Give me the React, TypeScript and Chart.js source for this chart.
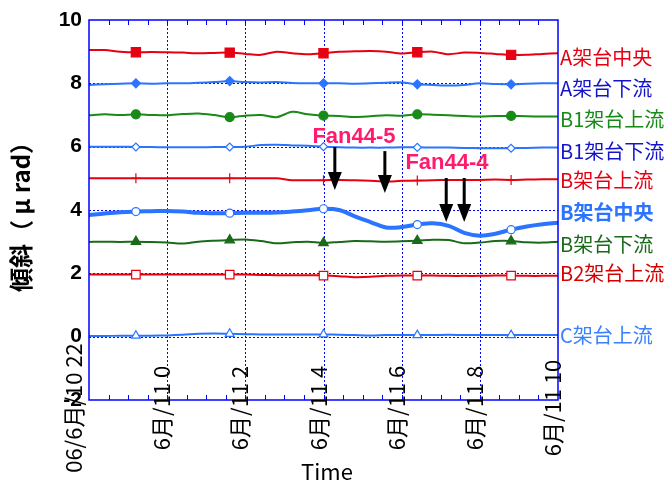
import React, { useEffect, useRef } from 'react';
import { Chart, registerables } from 'chart.js';

Chart.register(...registerables);

// time axis: hours after 06/10 22:00
const hours = [0, 0.4, 0.8, 1.2, 1.6, 2, 2.4, 2.8, 3.2, 3.6, 4, 4.4, 4.8, 5.2, 5.6, 6, 6.4, 6.8, 7.2, 7.6, 8, 8.4, 8.8, 9.2, 9.6, 10, 10.4, 10.8, 11.2, 11.6, 12];
const markerIndex = [3, 9, 15, 21, 27];

const aCenter = [9.05, 9.05, 9.0, 8.98, 8.99, 8.98, 8.97, 8.95, 8.96, 8.97, 8.93, 8.9, 9.0, 8.95, 8.92, 8.95, 9.0, 9.01, 9.02, 9.0, 8.94, 8.98, 9.0, 8.92, 8.97, 8.96, 8.93, 8.9, 8.9, 8.93, 8.95];
const aDown = [7.95, 7.97, 7.99, 8.0, 7.99, 8.0, 8.0, 8.02, 8.04, 8.07, 8.04, 8.03, 8.04, 8.01, 8.0, 8.0, 8.0, 7.99, 8.0, 8.02, 8.03, 7.97, 7.95, 7.93, 7.95, 8.0, 7.98, 7.97, 7.99, 8.0, 8.0];
const b1Up = [6.99, 7.02, 7.0, 7.02, 7.0, 6.99, 7.03, 7.05, 7.0, 6.93, 6.98, 7.0, 6.93, 7.1, 7.02, 6.98, 6.97, 6.94, 6.96, 6.99, 6.98, 7.02, 7.01, 6.99, 6.97, 6.95, 6.97, 6.97, 6.96, 6.95, 6.95];
const b1Down = [6.0, 6.0, 6.0, 5.99, 5.99, 5.98, 5.98, 5.98, 5.99, 5.99, 6.0, 6.05, 6.06, 6.04, 6.03, 6.0, 5.98, 5.97, 5.97, 5.97, 5.98, 5.98, 5.97, 5.97, 5.96, 5.95, 5.95, 5.95, 5.96, 5.97, 5.97];
const bUp = [5.0, 5.0, 5.0, 5.0, 5.0, 5.0, 5.0, 5.0, 5.0, 5.0, 5.0, 5.0, 5.0, 4.94, 4.94, 4.94, 4.95, 4.94, 4.92, 4.9, 4.92, 4.93, 4.94, 4.95, 4.95, 4.95, 4.96, 4.95, 4.96, 4.97, 4.97];
const bCenter = [3.84, 3.89, 3.93, 3.95, 3.96, 3.97, 3.95, 3.91, 3.9, 3.9, 3.91, 3.91, 3.92, 3.95, 3.99, 4.04, 4.0, 3.8, 3.62, 3.45, 3.46, 3.54, 3.58, 3.5, 3.28, 3.19, 3.25, 3.38, 3.48, 3.55, 3.6];
const bDown = [2.99, 3.0, 2.99, 3.0, 2.99, 2.97, 2.94, 3.0, 3.03, 3.05, 3.07, 3.02, 2.95, 2.98, 3.0, 2.96, 2.99, 3.02, 3.01, 3.0, 3.01, 3.03, 3.06, 3.05, 2.95, 2.97, 3.02, 3.02, 2.98, 2.97, 3.0];
const b2Up = [1.96, 1.96, 1.96, 1.96, 1.96, 1.96, 1.96, 1.96, 1.96, 1.96, 1.96, 1.95, 1.94, 1.94, 1.94, 1.93, 1.91, 1.88, 1.89, 1.92, 1.93, 1.93, 1.93, 1.92, 1.92, 1.92, 1.93, 1.93, 1.92, 1.92, 1.92];
const cUp = [0.02, 0.02, 0.03, 0.03, 0.03, 0.04, 0.06, 0.09, 0.1, 0.09, 0.08, 0.07, 0.07, 0.07, 0.07, 0.07, 0.06, 0.05, 0.04, 0.05, 0.05, 0.05, 0.05, 0.06, 0.05, 0.05, 0.05, 0.05, 0.05, 0.05, 0.05];

const seriesNames = ['A架台中央', 'A架台下流', 'B1架台上流', 'B1架台下流', 'B架台上流', 'B架台中央', 'B架台下流', 'B2架台上流', 'C架台上流'];
// value level at which each right-hand name is written
const nameLevels = [8.83, 7.85, 6.87, 5.86, 4.95, 3.91, 2.9, 2.01, 0.05];

const xTickHours = [0, 2, 4, 6, 8, 10, 12];
const xTickLabels = ['06/6月/10 22', '6月/11 0', '6月/11 2', '6月/11 4', '6月/11 6', '6月/11 8', '6月/11 10'];
const yTicks = [-2, 0, 2, 4, 6, 8, 10];
const minorTickHours = [0.5, 1, 1.5, 2, 2.5, 3, 3.5, 4, 4.5, 5, 5.5, 6, 6.5, 7, 7.5, 8, 8.5, 9, 9.5, 10, 10.5, 11, 11.5];

const fanLabels = [
  { text: 'Fan44-5', x: 6.78, y: 6.31 },
  { text: 'Fan44-4', x: 9.16, y: 5.48 },
];
const fanArrows = [
  { x: 6.29, from: 5.99, to: 4.63 },
  { x: 7.57, from: 5.86, to: 4.54 },
  { x: 9.14, from: 5.01, to: 3.62 },
  { x: 9.6, from: 5.01, to: 3.62 },
];

const RED = '#e60012';
const BLUE = '#2b74ff';
const GREEN = '#178a17';
const DKGREEN = '#1b6a1b';
const NAVY = '#1414cc';
const GRIDBLUE = '#0000ff';

const nameColors = [RED, NAVY, GREEN, NAVY, RED, BLUE, DKGREEN, '#d40000', '#3a80ff'];

const CJK = '"Noto Sans CJK JP", "Noto Sans", sans-serif';

const decor = {
  id: 'decor',
  beforeDatasetsDraw(chart: any) {
    const { ctx, chartArea: a, scales } = chart;
    const x = scales.x, y = scales.y;
    ctx.save();
    ctx.strokeStyle = GRIDBLUE;
    ctx.lineWidth = 1;
    ctx.setLineDash([2, 2]);
    for (const h of [2, 4, 6, 8, 10]) {
      const px = Math.round(x.getPixelForValue(h)) + 0.5;
      ctx.beginPath(); ctx.moveTo(px, a.top); ctx.lineTo(px, a.bottom); ctx.stroke();
    }
    for (const v of [0, 2, 4, 6, 8]) {
      const py = Math.round(y.getPixelForValue(v)) + 0.5;
      ctx.beginPath(); ctx.moveTo(a.left, py); ctx.lineTo(a.right, py); ctx.stroke();
    }
    ctx.restore();
  },
  afterDraw(chart: any) {
    const { ctx, chartArea: a, scales } = chart;
    const x = scales.x, y = scales.y;
    ctx.save();
    // frame
    ctx.strokeStyle = GRIDBLUE;
    ctx.lineWidth = 1.5;
    ctx.setLineDash([]);
    ctx.strokeRect(a.left, a.top, a.right - a.left, a.bottom - a.top);
    // minor ticks
    ctx.lineWidth = 1;
    for (const h of minorTickHours) {
      const px = Math.round(x.getPixelForValue(h)) + 0.5;
      ctx.beginPath(); ctx.moveTo(px, a.top); ctx.lineTo(px, a.top + 5); ctx.stroke();
      ctx.beginPath(); ctx.moveTo(px, a.bottom); ctx.lineTo(px, a.bottom - 5); ctx.stroke();
    }
    // y tick labels
    ctx.fillStyle = '#000';
    ctx.font = 'bold 21px "Liberation Sans", Arial, sans-serif';
    ctx.textAlign = 'right';
    ctx.textBaseline = 'middle';
    for (const v of yTicks) {
      ctx.fillText(String(v), a.left - 7, y.getPixelForValue(v));
    }
    // x tick labels (rotated, centred on the axis line)
    ctx.font = `22px ${CJK}`;
    xTickHours.forEach((h, i) => {
      const px = x.getPixelForValue(h) + (i === 0 ? -7 : 3);
      ctx.save();
      ctx.translate(px, a.bottom + 8);
      ctx.rotate(-Math.PI / 2);
      ctx.textAlign = 'center';
      ctx.textBaseline = 'alphabetic';
      ctx.fillText(xTickLabels[i], 0, 0);
      ctx.restore();
    });
    // axis titles
    ctx.font = `22px ${CJK}`;
    ctx.textAlign = 'center';
    ctx.textBaseline = 'middle';
    ctx.fillText('Time', 327, 472);
    ctx.save();
    ctx.translate(21, 211);
    ctx.rotate(-Math.PI / 2);
    ctx.font = `bold 24px ${CJK}`;
    ctx.fillText('傾斜（ μ rad）', 0, 0);
    ctx.restore();
    // right-hand series names
    ctx.textAlign = 'left';
    seriesNames.forEach((n, i) => {
      ctx.fillStyle = nameColors[i];
      ctx.font = (i === 5 ? 'bold ' : '') + `20px ${CJK}`;
      ctx.fillText(n, a.right + 2, y.getPixelForValue(nameLevels[i]));
    });
    // fan annotations
    ctx.fillStyle = '#ff1a6e';
    ctx.font = 'bold 22px "Liberation Sans", Arial, sans-serif';
    ctx.textAlign = 'center';
    for (const f of fanLabels) {
      ctx.fillText(f.text, x.getPixelForValue(f.x), y.getPixelForValue(f.y));
    }
    ctx.fillStyle = '#000';
    ctx.strokeStyle = '#000';
    for (const ar of fanArrows) {
      const px = x.getPixelForValue(ar.x);
      const y0 = y.getPixelForValue(ar.from);
      const y1 = y.getPixelForValue(ar.to);
      ctx.lineWidth = 3;
      ctx.beginPath(); ctx.moveTo(px, y0); ctx.lineTo(px, y1 - 16); ctx.stroke();
      ctx.beginPath();
      ctx.moveTo(px - 7, y1 - 18);
      ctx.lineTo(px + 7, y1 - 18);
      ctx.lineTo(px, y1);
      ctx.closePath();
      ctx.fill();
    }
    ctx.restore();
  },
};

function makeSet(label: string, values: number[], color: string, style: string, filled: boolean, r: number, width = 2, tension = 0.3) {
  return {
    label,
    data: values.map((v, i) => ({ x: hours[i], y: v })),
    borderColor: color,
    backgroundColor: filled ? color : '#ffffff',
    borderWidth: width,
    pointStyle: style,
    pointBorderColor: color,
    pointBackgroundColor: filled ? color : '#ffffff',
    pointBorderWidth: 1.2,
    pointRadius: (c: any) => (markerIndex.includes(c.dataIndex) ? r : 0),
    pointHoverRadius: 0,
    tension,
    fill: false,
  };
}

export default function App() {
  const ref = useRef<HTMLCanvasElement | null>(null);
  useEffect(() => {
    if (!ref.current) return;
    const chart = new Chart(ref.current, {
      type: 'line',
      data: {
        datasets: [
          makeSet(seriesNames[0], aCenter, RED, 'rect', true, 6.5),
          makeSet(seriesNames[1], aDown, BLUE, 'rectRot', true, 4.5),
          makeSet(seriesNames[2], b1Up, GREEN, 'circle', true, 4.5),
          makeSet(seriesNames[3], b1Down, BLUE, 'rectRot', false, 4),
          makeSet(seriesNames[4], bUp, RED, 'cross', false, 5),
          makeSet(seriesNames[5], bCenter, BLUE, 'circle', false, 4, 4, 0.4),
          makeSet(seriesNames[6], bDown, DKGREEN, 'triangle', true, 5.5),
          makeSet(seriesNames[7], b2Up, RED, 'rect', false, 6),
          makeSet(seriesNames[8], cUp, BLUE, 'triangle', false, 5),
        ] as any,
      },
      options: {
        responsive: false,
        animation: false,
        devicePixelRatio: 1,
        layout: { padding: { left: 89, right: 114, top: 20, bottom: 85 } },
        scales: {
          x: { type: 'linear', min: 0, max: 12, display: false },
          y: { type: 'linear', min: -2, max: 10, display: false },
        },
        plugins: { legend: { display: false }, tooltip: { enabled: false } },
        events: [],
      },
      plugins: [decor],
    });
    return () => chart.destroy();
  }, []);
  return (
    <div style={{ position: 'fixed', left: 0, top: 0, width: 672, height: 485, background: '#fff' }}>
      <canvas ref={ref} width={672} height={485} style={{ display: 'block' }} />
    </div>
  );
}
